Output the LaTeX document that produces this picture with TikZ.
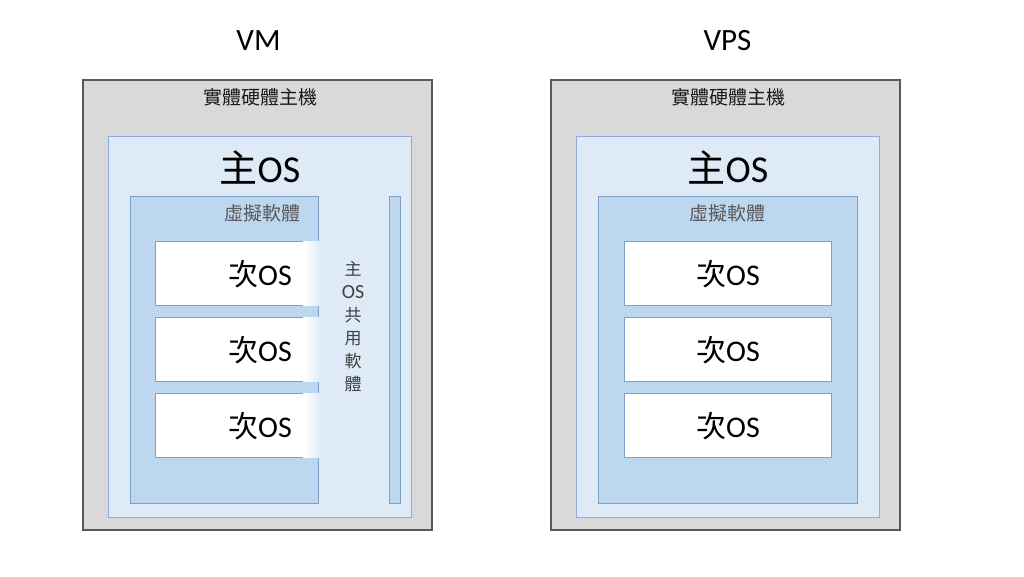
\documentclass[tikz,border=0pt]{standalone}
\usepackage{fontspec}
\setmainfont{Carlito}
\newfontfamily\cjk{Noto Sans CJK TC}
\definecolor{hostgray}{HTML}{D9D9D9}
\definecolor{hostline}{HTML}{595959}
\definecolor{oslight}{HTML}{DEEBF7}
\definecolor{osline}{HTML}{8FAADC}
\definecolor{vmblue}{HTML}{BDD7EE}
\definecolor{vmline}{HTML}{7F9FC8}
\definecolor{softgray}{HTML}{595959}
\begin{document}
\begin{tikzpicture}[
        x=1pt, y=-1pt,
        box/.style={anchor=north west, inner sep=0pt, outer sep=0pt},
        hostbox/.style={box, draw=hostline, fill=hostgray, line width=1.2pt, minimum width=349pt, minimum height=450pt},
        osbox/.style={box, draw=osline, fill=oslight, line width=0.8pt, minimum width=303pt, minimum height=381pt},
        vmbox/.style={box, draw=vmline, fill=vmblue, line width=0.8pt, minimum height=307pt},
        guestbox/.style={box, draw=vmline, fill=white, line width=0.8pt, minimum height=64pt},
        fadebox/.style={box, left color=white, right color=oslight, minimum width=18pt, minimum height=64pt},
        title/.style={font=\fontsize{31}{31}\selectfont},
        hosttext/.style={font=\cjk\fontsize{19}{19}\selectfont, text=black!90},
        ostext/.style={font=\fontsize{38}{38}\selectfont},
        softtext/.style={font=\cjk\fontsize{19}{19}\selectfont, text=softgray},
        guesttext/.style={font=\fontsize{30}{30}\selectfont},
        sharetext/.style={font=\cjk\fontsize{17}{23}\selectfont, text=black!75, align=center},
    ]
    \useasboundingbox (0,0) rectangle (1024,576);

    % VM
    \node[title] (vmtitle) at (258.5,41) {VM};
    \node[hostbox] (vmhost) at (83,80) {};
    \node[hosttext] (vmhosttext) at (260,97) {實體硬體主機};
    \node[osbox] (vmos) at (108,136) {};
    \node[ostext] (vmostext) at (260,167) {{\cjk 主}OS};
    \node[vmbox, minimum width=188pt] (vmsoft) at (130,196) {};
    \node[softtext, anchor=east] (vmsofttext) at (304,213) {虛擬軟體};
    \foreach \y [count=\i] in {241,317,393}{
        \node[guestbox, minimum width=150pt] (vmguest\i) at (155,\y) {};
        \node[fadebox] (vmfade\i) at (303,\y) {};
        \node[guesttext] (vmguesttext\i) at (260,{\y+33}) {{\cjk 次}OS};
    }
    \node[vmbox, minimum width=11pt] (vmshare) at (389,196) {};
    \node[sharetext] (vmsharetext) at (353,327) {主\\{\rmfamily\fontsize{20}{23}\selectfont OS}\\共\\用\\軟\\體};

    % VPS
    \node[title] (vpstitle) at (727.5,41) {VPS};
    \node[hostbox] (vpshost) at (551,80) {};
    \node[hosttext] (vpshosttext) at (728,97) {實體硬體主機};
    \node[osbox] (vpsos) at (576,136) {};
    \node[ostext] (vpsostext) at (728,167) {{\cjk 主}OS};
    \node[vmbox, minimum width=259pt] (vpssoft) at (598,196) {};
    \node[softtext] (vpssofttext) at (727,213) {虛擬軟體};
    \foreach \y [count=\i] in {241,317,393}{
        \node[guestbox, minimum width=207pt] (vpsguest\i) at (624,\y) {};
        \node[guesttext] (vpsguesttext\i) at (728,{\y+33}) {{\cjk 次}OS};
    }
\end{tikzpicture}
\end{document}
